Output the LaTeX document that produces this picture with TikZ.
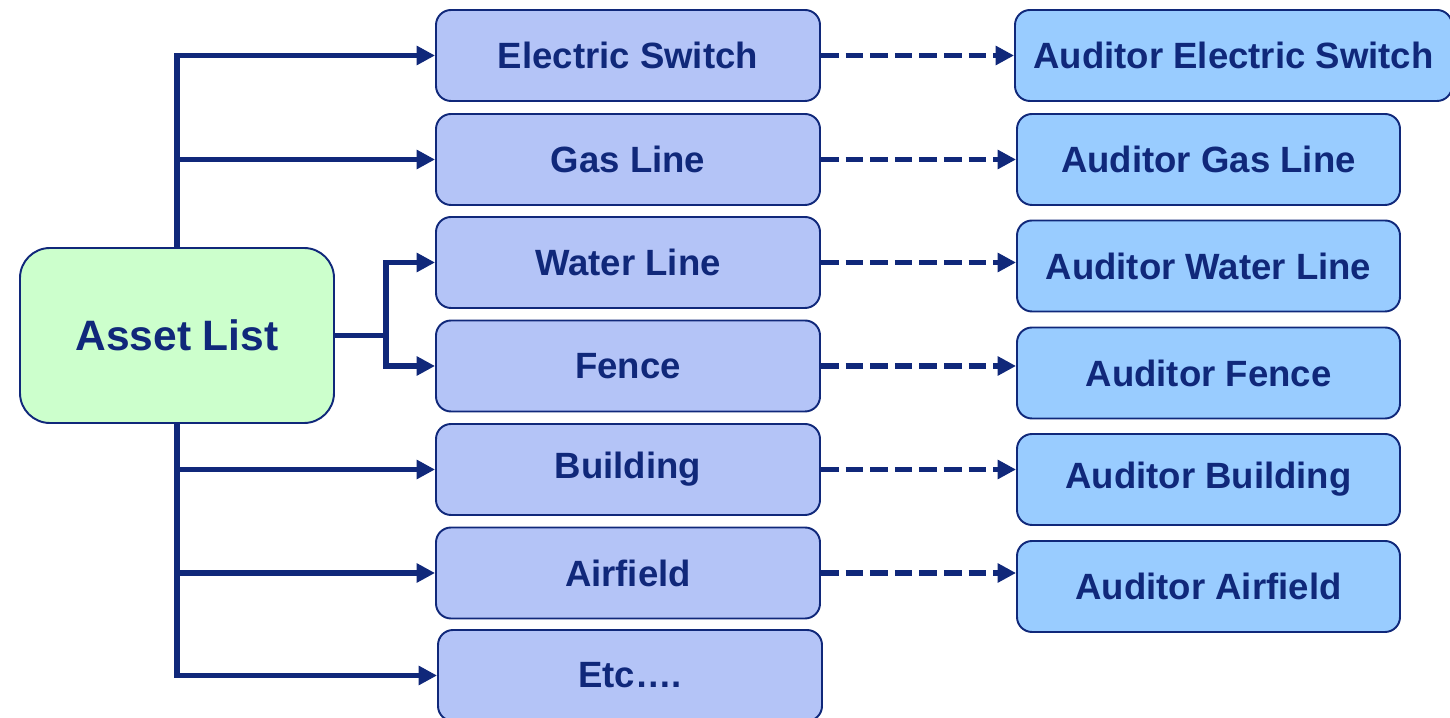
\documentclass[tikz,border=0pt]{standalone}
\usepackage{fontspec}
\setmainfont{Liberation Sans}
\usetikzlibrary{positioning, arrows.meta, calc}

\definecolor{navy}{RGB}{16,40,122}
\definecolor{assetgreen}{RGB}{204,255,204}
\definecolor{itemblue}{RGB}{180,196,247}
\definecolor{auditblue}{RGB}{153,204,255}

\begin{document}
\begin{tikzpicture}[line width=1.1pt,
  box/.style={draw=navy, rounded corners=0.3cm, minimum width=7.68cm, minimum height=1.82cm,
    inner sep=0pt, text=navy, font=\fontsize{20.8}{24}\selectfont\bfseries},
  item/.style={box, fill=itemblue},
  audit/.style={box, fill=auditblue, minimum width=7.66cm},
  link/.style={draw=navy, line width=3.3pt, -{Triangle[length=10.5pt,width=10.5pt]}},
  dashlink/.style={link, line width=3.1pt, dash pattern=on 10pt off 4pt}]

\useasboundingbox (0,0) rectangle (29,-14.36);

% The asset list on the left
\node[box, fill=assetgreen, rounded corners=0.6cm, minimum width=6.28cm, minimum height=3.5cm,
  font=\fontsize{24.2}{28}\selectfont\bfseries] (asset) at (3.54,-6.71) {Asset List};

% Middle column: one box per kind of asset
\foreach \n/\y/\t in {elec/1.11/Electric Switch, gas/3.19/Gas Line, water/5.25/Water Line,
                      fence/7.32/Fence, bldg/9.39/Building, air/11.46/Airfield} {
  \node[item] (\n) at (12.56,-\y) {\t};
}
\node[item] (etc) at (12.6,-13.51) {Etc….};

% Right column: the auditors
\node[audit, minimum width=8.74cm] (aelec) at (24.67,-1.11) {Auditor Electric Switch};
\foreach \n/\y/\t in {gas/3.19/Gas Line, water/5.32/Water Line, fence/7.46/Fence,
                      bldg/9.59/Building, air/11.73/Airfield} {
  \node[audit] (a\n) at (24.17,-\y) {Auditor \t};
}

% Trunk from the asset list, up and down
\draw[link] (asset.north) |- (elec.west);
\draw[link] (asset.south) |- (etc.west);
\foreach \n in {gas, bldg, air} {
  \draw[link] (asset.north |- \n.west) -- (\n.west);
}

% Short fork to water line and fence
\coordinate (fork) at ($(asset.east)+(1.02,0)$);
\draw[navy, line width=3.3pt] (asset.east) -- (fork);
\foreach \n in {water, fence} {
  \draw[link] (fork) |- (\n.west);
}

% Dashed links to the auditors
\foreach \n in {elec, gas, water, fence, bldg, air} {
  \draw[dashlink] (\n.east) -- (a\n.west |- \n.east);
}

\end{tikzpicture}
\end{document}
